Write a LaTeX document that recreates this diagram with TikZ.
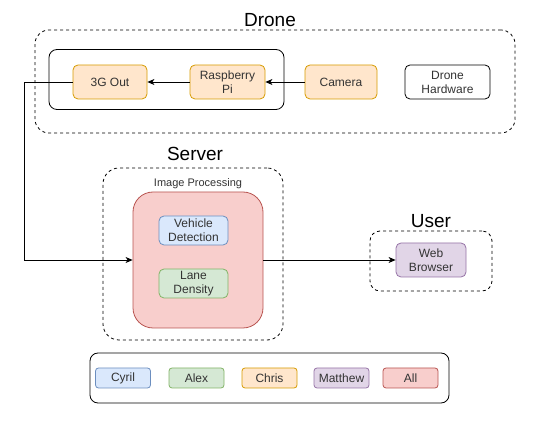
\documentclass[tikz,border=0pt]{standalone}
\usepackage{fontspec}
\setmainfont{Liberation Sans}
\usetikzlibrary{arrows.meta}
\definecolor{bluef}{HTML}{DAE8FC}\definecolor{blued}{HTML}{6C8EBF}
\definecolor{greenf}{HTML}{D5E8D4}\definecolor{greend}{HTML}{82B366}
\definecolor{orangef}{HTML}{FFE6CC}\definecolor{oranged}{HTML}{D79B00}
\definecolor{purplef}{HTML}{E1D5E7}\definecolor{purpled}{HTML}{9673A6}
\definecolor{redf}{HTML}{F8CECC}\definecolor{redd}{HTML}{B85450}
\definecolor{txt}{HTML}{333333}
\tikzset{
  lbl/.style={font=\fontsize{12}{14}\selectfont, align=center, inner sep=0pt, text=txt},
  box/.style={lbl, draw, rounded corners=5pt, line width=0.8pt},
  obox/.style={box, draw=oranged, fill=orangef},
  bbox/.style={box, draw=blued, fill=bluef},
  gbox/.style={box, draw=greend, fill=greenf},
  pbox/.style={box, draw=purpled, fill=purplef},
  rbox/.style={box, draw=redd, fill=redf},
  wbox/.style={box, draw=black, fill=white},
  grp/.style={draw, dash pattern=on 3pt off 3pt, line width=0.8pt, inner sep=0pt},
  title/.style={font=\fontsize{19}{22}\selectfont, inner sep=0pt},
  conn/.style={line width=0.8pt, -{Stealth[length=7pt,width=6pt,inset=2pt]}}
}
\begin{document}
\begin{tikzpicture}[x=1pt,y=-1pt]
\useasboundingbox (0,0) rectangle (539,422);
% groups
\node[grp, rounded corners=14pt, minimum width=480pt, minimum height=103pt] (drone) at (275,81.5) {};
\node[draw, line width=0.8pt, rounded corners=8pt, minimum width=235pt, minimum height=60pt, inner sep=0pt] (inner) at (166.5,79.5) {};
\node[title] (dronet) at (270,20) {Drone};
\node[grp, rounded corners=16pt, minimum width=180pt, minimum height=172pt] (server) at (193,254) {};
\node[title] (servert) at (195,154) {Server};
\node[grp, rounded corners=10pt, minimum width=122pt, minimum height=60pt] (user) at (431,261) {};
\node[title] (usert) at (431,221) {User};
% drone nodes
\node[obox, minimum width=74pt, minimum height=34pt] (g3) at (110,82) {3G Out};
\node[obox, minimum width=75pt, minimum height=34pt] (rpi) at (227.5,82) {Raspberry\\Pi};
\node[obox, minimum width=72pt, minimum height=34pt] (cam) at (341,82) {Camera};
\node[wbox, minimum width=85pt, minimum height=34pt] (hw) at (447.5,82) {Drone\\Hardware};
% server
\node[lbl, font=\fontsize{11}{13}\selectfont] (ipt) at (198,184) {Image Processing};
\node[rbox, rounded corners=20pt, minimum width=130pt, minimum height=136pt] (ip) at (198,260) {};
\node[bbox, minimum width=69pt, minimum height=29pt] (vd) at (193.5,230.5) {Vehicle\\Detection};
\node[gbox, minimum width=69pt, minimum height=29pt] (ld) at (193.5,283.5) {Lane\\Density};
% user
\node[pbox, minimum width=70pt, minimum height=34pt] (wb) at (431,260) {Web\\Browser};
% legend
\node[draw, line width=0.8pt, rounded corners=8pt, minimum width=359pt, minimum height=50pt, inner sep=0pt] (leg) at (269.5,378) {};
\node[bbox, minimum width=55pt, minimum height=20pt, rounded corners=3pt] (l1) at (123,378) {Cyril};
\node[gbox, minimum width=55pt, minimum height=20pt, rounded corners=3pt] (l2) at (196.5,378) {Alex};
\node[obox, minimum width=55pt, minimum height=20pt, rounded corners=3pt] (l3) at (269.5,378) {Chris};
\node[pbox, minimum width=55pt, minimum height=20pt, rounded corners=3pt] (l4) at (341.5,378) {Matthew};
\node[rbox, minimum width=55pt, minimum height=20pt, rounded corners=3pt] (l5) at (410.5,378) {All};
% connectors
\coordinate (bend) at (24,82);
\draw[conn] (cam.west) -- (rpi.east);
\draw[conn] (rpi.west) -- (g3.east);
\draw[conn] (g3.west) -- (bend) |- (ip.west);
\draw[conn] (ip.east) -- (wb.west);
\end{tikzpicture}
\end{document}
